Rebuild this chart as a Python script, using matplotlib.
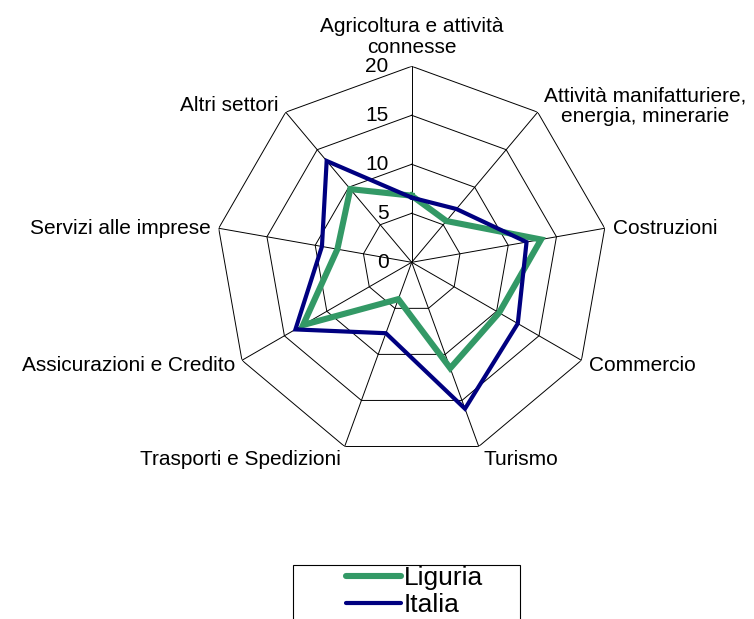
import numpy as np
import matplotlib
matplotlib.use('Agg')
import matplotlib.pyplot as plt
from matplotlib.patches import Rectangle

plt.rcParams['font.family'] = ['Liberation Sans', 'DejaVu Sans']

categories = ['Agricoltura e attività\nconnesse',
              'Attività manifatturiere,\nenergia, minerarie',
              'Costruzioni', 'Commercio', 'Turismo',
              'Trasporti e Spedizioni', 'Assicurazioni e Credito',
              'Servizi alle imprese', 'Altri settori']
liguria = [6.8, 5.5, 13.4, 10.3, 11.5, 4.0, 12.8, 7.7, 9.75]
italia = [6.6, 7.1, 11.9, 12.5, 15.9, 7.7, 13.7, 9.3, 13.5]
rings = [0, 5, 10, 15, 20]

# label placement (offset in px, alignment)
label_style = [((0, 9), 'center', 'bottom'),
               ((6, 6), 'left', 'center'),
               ((8, 0), 'left', 'center'),
               ((8, -5), 'left', 'center'),
               ((5, -4), 'left', 'top'),
               ((-4, -4), 'right', 'top'),
               ((-7, -5), 'right', 'center'),
               ((-8, 0), 'right', 'center'),
               ((-7, 7), 'right', 'center')]

W, H = 754, 619
fig = plt.figure(figsize=(W / 100, H / 100), dpi=100)
cx, cy, R = 411.7, 262.3, 196
ax = fig.add_axes([(cx - R) / W, 1 - (cy + R) / H, 2 * R / W, 2 * R / H], projection='polar')
ax.set_theta_zero_location('N')
ax.set_theta_direction(-1)
ax.set_ylim(0, 20)
ax.grid(False)
ax.spines['polar'].set_visible(False)
ax.set_xticks([])
ax.set_yticks([])
ax.patch.set_visible(False)

n = len(categories)
theta = np.arange(n) * 2 * np.pi / n
closed = np.append(theta, theta[0])

# polygon grid
for r in rings[1:]:
    ax.plot(closed, [r] * (n + 1), color='black', lw=0.7, zorder=1)
for t in theta:
    ax.plot([t, t], [0, 20], color='black', lw=0.7, zorder=1)

ax.plot(closed, liguria + liguria[:1], color='#339966', lw=4.4, zorder=3,
        solid_joinstyle='miter', label='Liguria')
ax.plot(closed, italia + italia[:1], color='#000080', lw=3.0, zorder=4,
        solid_joinstyle='miter', label='Italia')

px = 72 / 100
for r in rings:
    ax.annotate(str(r), xy=(0, r), xytext=(-23 * px, 0), textcoords='offset points',
                ha='right', va='center', fontsize=15)

for t, lab, (off, ha, va) in zip(theta, categories, label_style):
    ax.annotate(lab, xy=(t, 20), xytext=(off[0] * px, off[1] * px), textcoords='offset points',
                ha=ha, va=va, fontsize=15, multialignment='center', linespacing=1.15,
                annotation_clip=False)

handles, labels = ax.get_legend_handles_labels()
leg = fig.legend(handles, labels, loc='upper left', bbox_to_anchor=(346 / W, 1 - 566 / H),
                 frameon=False, fontsize=19, handlelength=2.1, handletextpad=0.1,
                 labelspacing=0.12, borderpad=0, borderaxespad=0)
for h in leg.get_lines():
    h.set_solid_capstyle('round')

fig.add_artist(Rectangle((293 / W, -0.05), 227 / W, 1 - 565 / H + 0.05,
                         transform=fig.transFigure, fill=False, ec='black', lw=0.8))

fig.savefig('out.png', dpi=100)
